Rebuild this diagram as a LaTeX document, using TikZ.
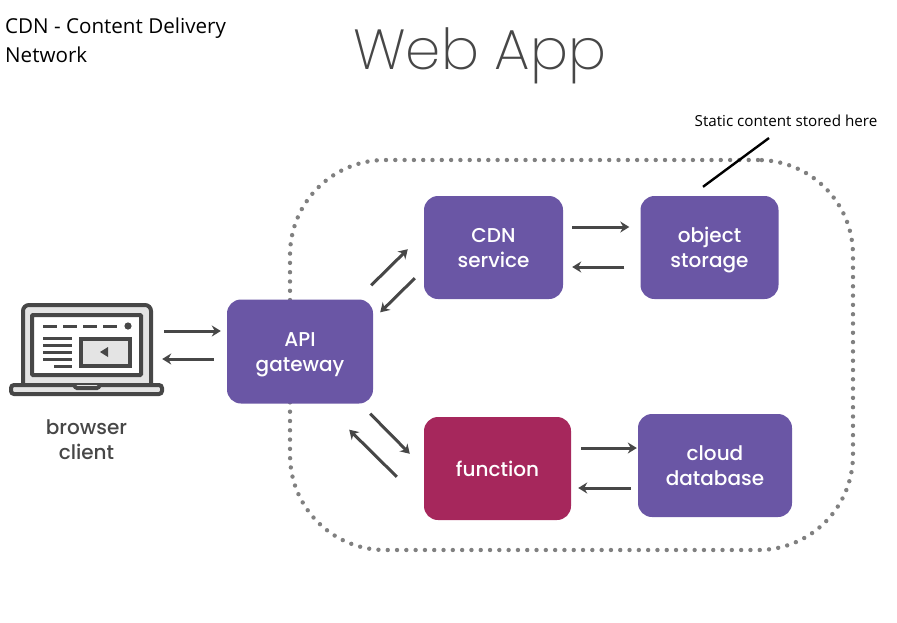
\documentclass[tikz,border=0pt]{standalone}
\usepackage{fontspec}
\usetikzlibrary{arrows.meta}
\setmainfont[UprightFont=* Medium]{Poppins}
\newfontfamily\notefont{Open Sans}
\newfontfamily\titlefont[UprightFont=* ExtraLight]{Poppins}
\definecolor{boxpurple}{HTML}{6A56A5}
\definecolor{boxred}{HTML}{A6275C}
\definecolor{inkgray}{HTML}{474747}
\definecolor{dotgray}{HTML}{808080}
\definecolor{screengray}{HTML}{E4E4E4}
\newcommand{\boxlines}[2]{\rule{0pt}{21.5pt}#1\\#2\strut}
\tikzset{
  appbox/.style={draw=none,fill=boxpurple,rounded corners=14pt,text=white,align=center,font=\fontsize{20}{25}\selectfont,inner sep=0pt},
  flow/.style={draw=inkgray,line width=3pt,-{Stealth[length=9pt,width=11pt]}},
  laptopline/.style={draw=inkgray,line width=4pt,rounded corners=1pt},
  textline/.style={draw=inkgray,line width=3pt},
  note/.style={text=black,inner sep=0pt,font=\notefont}
}
\begin{document}
\begin{tikzpicture}[x=1pt,y=-1pt]
    \useasboundingbox (0,0) rectangle (897,622);
    \node at (571.5,355) [draw=dotgray,line width=4.4pt,line cap=round,dash pattern=on 0pt off 9.3pt,rounded corners=95pt,minimum width=563pt,minimum height=390pt] (webapp) {};
    \node at (300,351.5) [appbox,minimum width=146pt,minimum height=104pt] (api) {\boxlines{API}{gateway}};
    \node at (493.5,247.5) [appbox,minimum width=139pt,minimum height=103pt] (cdn) {\boxlines{CDN}{service}};
    \node at (709.5,247.5) [appbox,minimum width=138pt,minimum height=103pt] (object) {\boxlines{object}{storage}};
    \node at (497.5,468.5) [appbox,fill=boxred,minimum width=147pt,minimum height=103pt] (function) {\rule{0pt}{24pt}function\strut};
    \node at (715,465.5) [appbox,minimum width=154pt,minimum height=103pt] (database) {\boxlines{cloud}{database}};
    \node at (86.5,349.5) [minimum width=155pt,minimum height=93pt,inner sep=0pt] (browser) {};
    \node at (86.5,440) [text=inkgray,align=center,font=\fontsize{20}{25}\selectfont,inner sep=0pt] (browserlabel) {browser\\client};
    \node at (353,56) [anchor=west,text=inkgray,inner sep=0pt,font=\titlefont\fontsize{56.5}{66}\selectfont] (title) {Web App};
    \node at (5,40) [note,anchor=west,align=left,font=\notefont\fontsize{20.6}{29}\selectfont] (cdnnote) {CDN - Content Delivery\\Network};
    \node at (786,126) [note,anchor=base,font=\notefont\fontsize{15.2}{18}\selectfont] (storednote) {Static content stored here};
    % laptop
    \draw[laptopline,fill=screengray,rounded corners=6pt] (23,385) -- (23,305) -- (151,305) -- (151,385);
    \draw[laptopline,fill=white] (32,315) rectangle (141,375);
    \draw[laptopline,fill=screengray,rounded corners=3pt] (11,385) rectangle (162,394);
    \draw[laptopline,fill=screengray] (74,385) -- (76,388) -- (98,388) -- (100,385);
    \draw[textline] (43,326) -- (57,326) (63,326) -- (77,326) (83,326) -- (97,326) (103,326) -- (117,326);
    \fill[inkgray] (128,326) circle (3.6pt);
    \draw[textline] (43,338) -- (72,338) (43,345) -- (72,345) (43,352) -- (72,352) (43,359) -- (72,359) (54,366) -- (72,366);
    \draw[laptopline,fill=screengray,rounded corners=0pt] (81,339) rectangle (130,366);
    \fill[inkgray] (100,352) -- (108,347) -- (108,357) -- cycle;
    % arrows
    \draw[flow,shorten >=6pt] ([shift={(0,-18.5)}]browser.east) -- ([shift={(0,-20.5)}]api.west);
    \draw[flow] ([shift={(-13,7.5)}]api.west) -- ([shift={(-2,9.5)}]browser.east);
    \draw[flow] ([shift={(-2,-14)}]api.north east) -- ([shift={(-16,-50)}]cdn.south west);
    \draw[flow] ([shift={(-9,-21)}]cdn.south west) -- ([shift={(7,13)}]api.north east);
    \draw[flow,shorten >=11pt] ([shift={(9,-20.5)}]cdn.east) -- ([shift={(0,-20.5)}]object.west);
    \draw[flow,shorten >=9pt] ([shift={(-16,19.5)}]object.west) -- ([shift={(0,19.5)}]cdn.east);
    \draw[flow] ([shift={(-3,10)}]api.south east) -- ([shift={(-14,37)}]function.north west);
    \draw[flow] ([shift={(-27,60)}]function.north west) -- ([shift={(-24,26)}]api.south east);
    \draw[flow,shorten >=1pt] ([shift={(10,-20.5)}]function.east) -- ([shift={(0,-17.5)}]database.west);
    \draw[flow,shorten >=7pt] ([shift={(-7,22.5)}]database.west) -- ([shift={(0,19.5)}]function.east);
    % annotation
    \draw[black,line width=2.4pt] ([shift={(-17,12)}]storednote.base) -- ([shift={(-6.5,-9)}]object.north);
\end{tikzpicture}
\end{document}
